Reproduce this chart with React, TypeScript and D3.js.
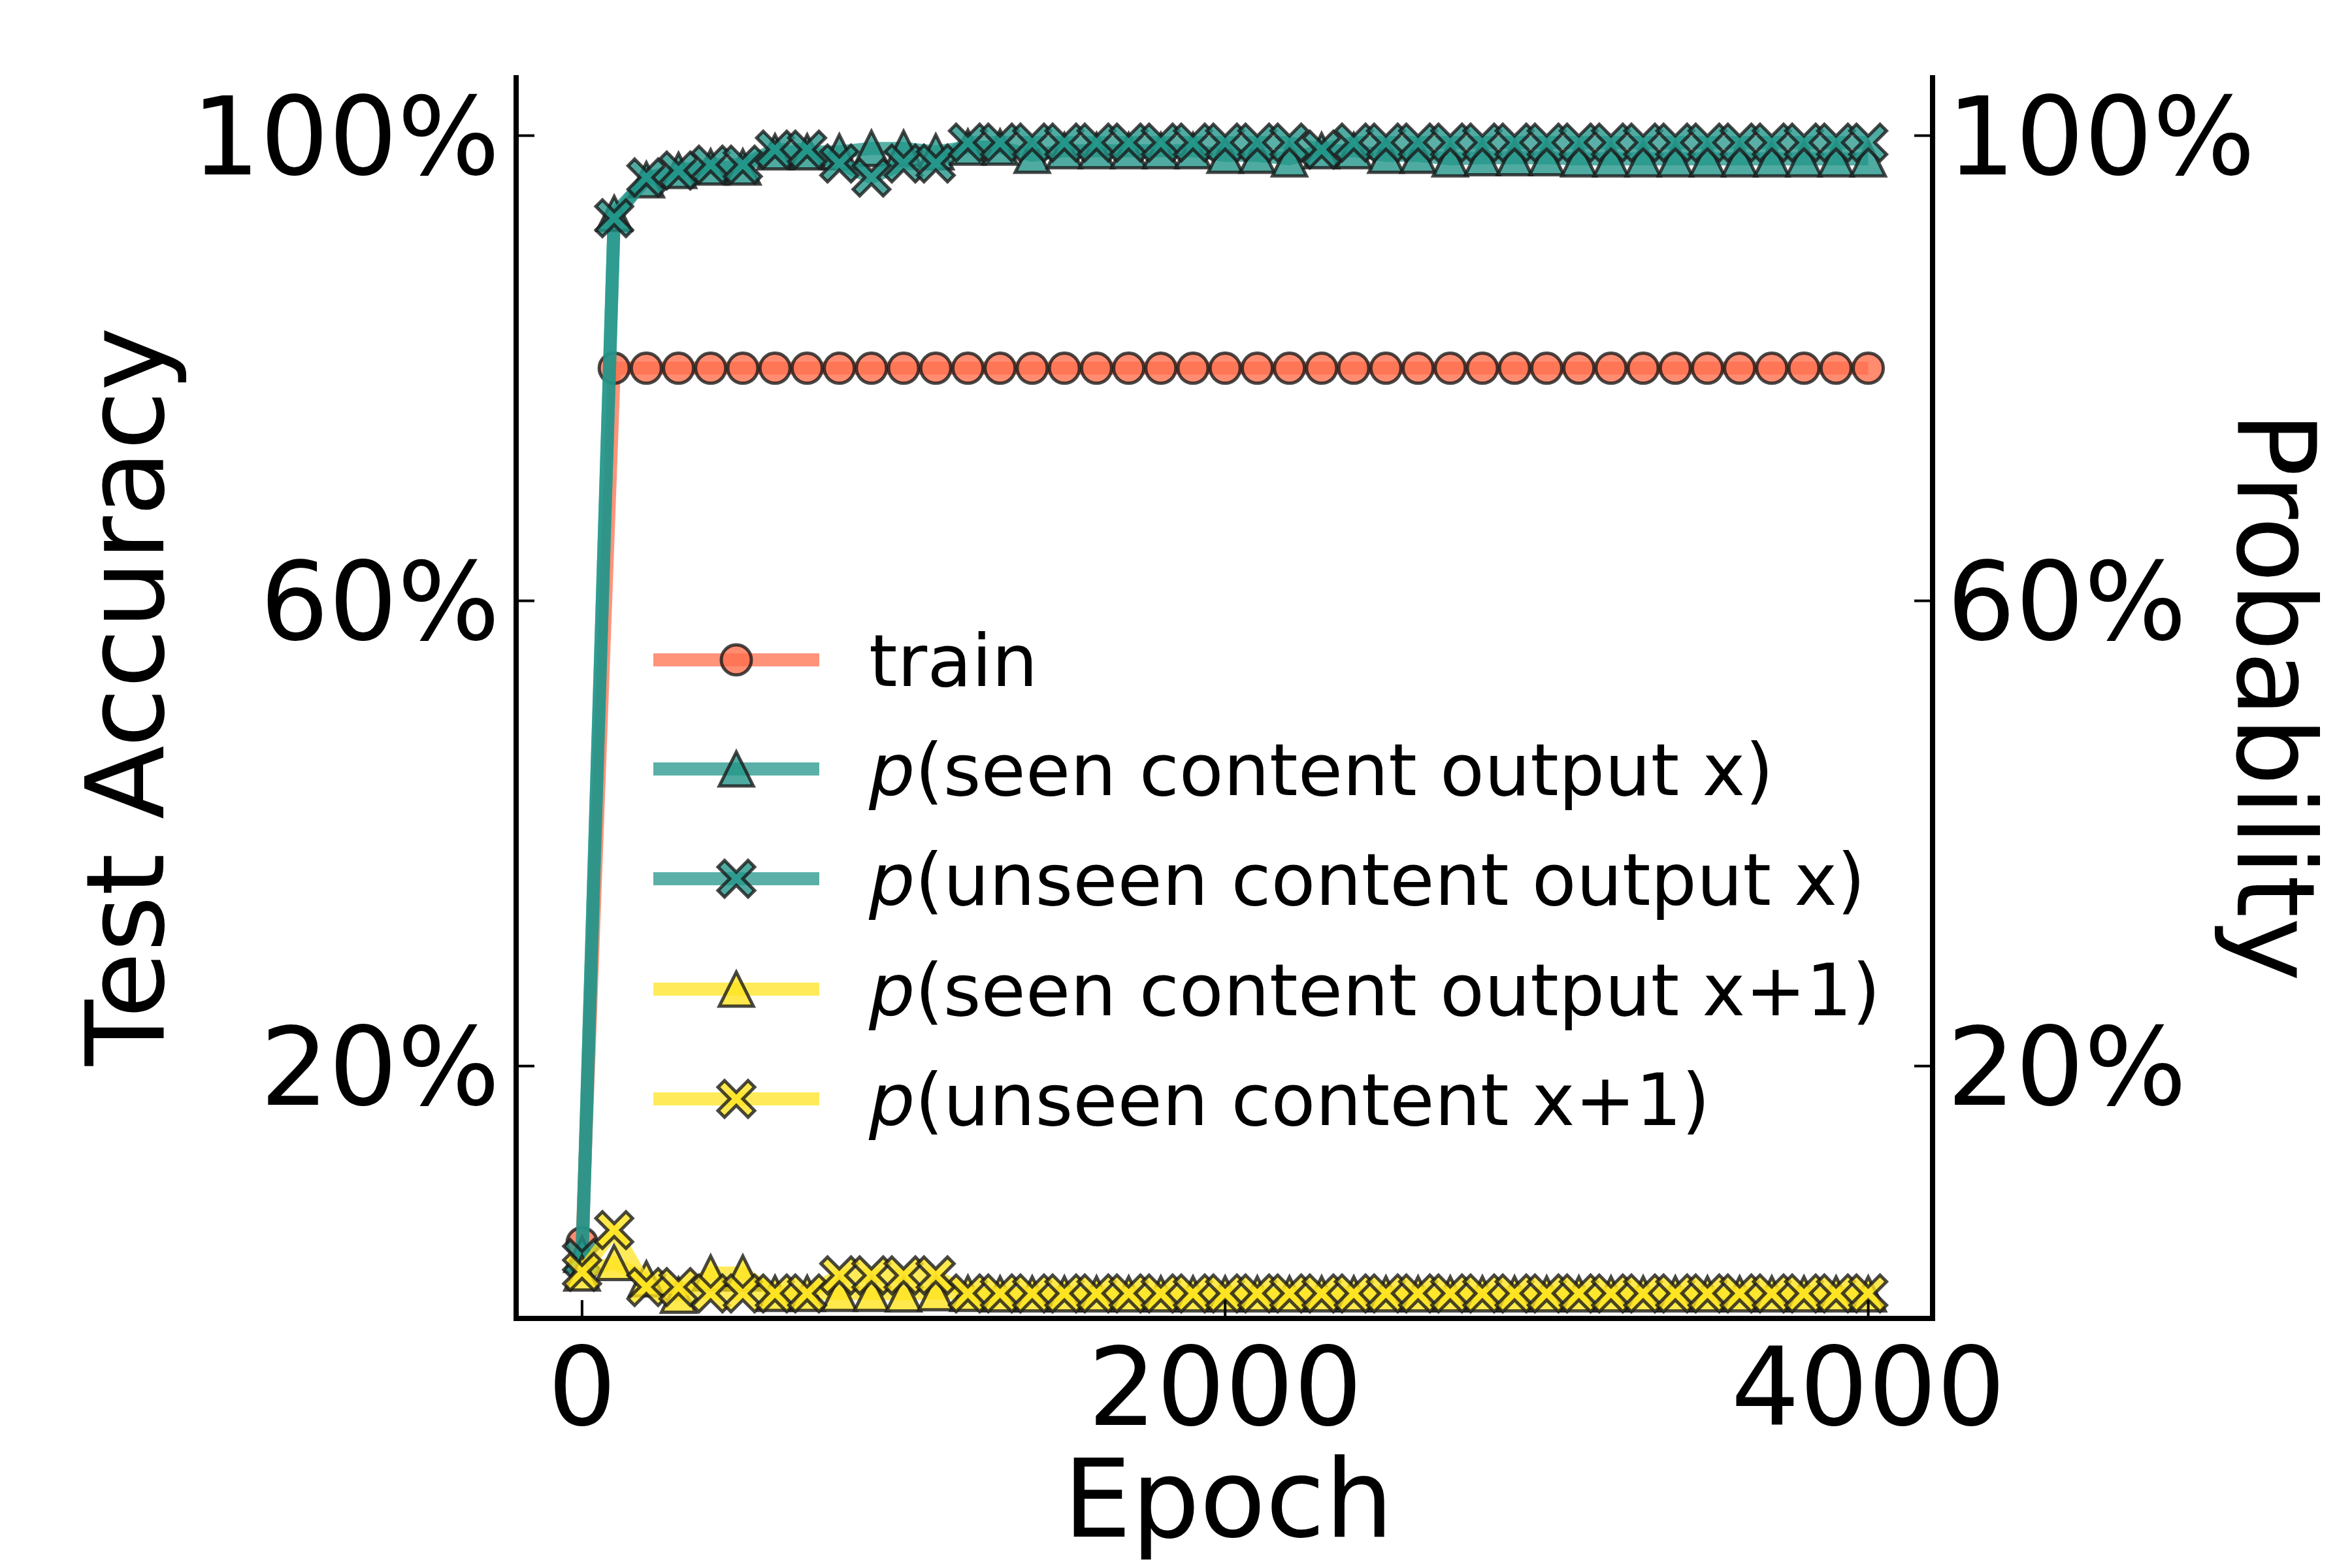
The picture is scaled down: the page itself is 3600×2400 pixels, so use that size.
import React from 'react';
import * as d3 from 'd3';

// epochs logged every 100 steps
const epochs = d3.range(0, 4001, 100);

const trainAcc = [4.8, ...Array(40).fill(80)];

const seenX = [3.8, 93.3, 96.2, 97.0, 97.3, 97.3, 98.6, 98.6, 98.6, 98.9, 98.9, 98.6, 99.0, 99.0,
  98.3, 98.7, 98.7, 98.7, 98.7, 98.7, 98.3, 98.3, 98.0, 98.7, 98.7, 98.3, 98.3, 98.0, 98.1, 98.1,
  98.1, 98.0, 98.0, 98.0, 98.0, 98.0, 98.0, 98.0, 98.0, 98.0, 98.0];
const unseenX = [3.5, 92.9, 96.4, 97.0, 97.5, 97.5, 98.8, 98.8, 97.6, 96.4, 97.6, 97.6, 99.4, 99.4,
  99.4, 99.4, 99.4, 99.4, 99.4, 99.4, 99.4, 99.4, 99.4, 98.8, 99.4, 99.4, 99.4, 99.4, 99.4, 99.4,
  99.4, 99.4, 99.4, 99.4, 99.4, 99.4, 99.4, 99.4, 99.4, 99.4, 99.4];
const seenX1 = [2.2, 3.1, 1.7, 0.3, 2.2, 2.2, 0.45, 0.45, 0.45, 0.45, 0.4, 0.5, 0.45,
  ...Array(28).fill(0.4)];
const unseenX1 = [2.3, 5.9, 1.0, 1.0, 0.45, 0.45, 0.45, 0.45, 2.0, 2.0, 2.0, 2.0, 0.45,
  ...Array(28).fill(0.45)];

const yTicks = [20, 60, 100];
const xTicks = [0, 2000, 4000];

type Marker = 'circle' | 'tri' | 'x';
const series: { label: string; values: number[]; color: string; marker: Marker }[] = [
  { label: 'train', values: trainAcc, color: '#ff6f4e', marker: 'circle' },
  { label: '(seen content output x)', values: seenX, color: '#23968a', marker: 'tri' },
  { label: '(unseen content output x)', values: unseenX, color: '#23968a', marker: 'x' },
  { label: '(seen content output x+1)', values: seenX1, color: '#ffe421', marker: 'tri' },
  { label: '(unseen content x+1)', values: unseenX1, color: '#ffe421', marker: 'x' },
];

const L = 790, R = 2958, T = 115, B = 2018;
const font = 'DejaVu Sans';

function markerPath(m: Marker): string {
  if (m === 'circle') {
    const r = 23;
    return `M${-r},0A${r},${r} 0 1,0 ${r},0A${r},${r} 0 1,0 ${-r},0Z`;
  }
  if (m === 'tri') {
    const h = 26;
    return `M0,${-h}L${h},${h}L${-h},${h}Z`;
  }
  // filled X
  const a = 28, w = 10;
  const pts: [number, number][] = [
    [-a, -a + w], [-a + w, -a], [0, -w], [a - w, -a], [a, -a + w], [w, 0],
    [a, a - w], [a - w, a], [0, w], [-a + w, a], [-a, a - w], [-w, 0],
  ];
  return 'M' + pts.map((p) => p.join(',')).join('L') + 'Z';
}

const App: React.FC = () => {
  const x = d3.scaleLinear().domain([-205, 4200]).range([L, R]);
  const y = d3.scaleLinear().domain([-1.7, 105.2]).range([B, T]);
  const line = d3.line<number>().x((_, i) => x(epochs[i])).y((v) => y(v));

  const legX = 1000, legW = 254, legText = 1330;
  const legRows = [1010, 1177, 1345, 1514, 1682];

  return (
    <svg width={3600} height={2400} style={{ position: 'absolute', left: 0, top: 0, background: '#fff' }}>
      {series.map((s) => (
        <g key={s.label}>
          <path d={line(s.values) ?? ''} fill="none" stroke={s.color} strokeWidth={20} strokeOpacity={0.75} strokeLinejoin="round" />
          {s.values.map((v, i) => (
            <path key={i} d={markerPath(s.marker)} transform={`translate(${x(epochs[i])},${y(v)})`}
              fill={s.color} fillOpacity={0.8} stroke="#1a1a1a" strokeOpacity={0.8} strokeWidth={5} />
          ))}
        </g>
      ))}

      {/* spines */}
      <line x1={L} x2={L} y1={T} y2={B} stroke="#000" strokeWidth={8} />
      <line x1={R} x2={R} y1={T} y2={B} stroke="#000" strokeWidth={8} />
      <line x1={L - 4} x2={R + 4} y1={B} y2={B} stroke="#000" strokeWidth={8} />

      {yTicks.map((t) => (
        <g key={t}>
          <line x1={L} x2={L + 28} y1={y(t)} y2={y(t)} stroke="#000" strokeWidth={4} />
          <line x1={R - 28} x2={R} y1={y(t)} y2={y(t)} stroke="#000" strokeWidth={4} />
          <text x={L - 25} y={y(t)} dy="0.36em" textAnchor="end" fontFamily={font} fontSize={165}>{t}%</text>
          <text x={R + 22} y={y(t)} dy="0.36em" textAnchor="start" fontFamily={font} fontSize={165}>{t}%</text>
        </g>
      ))}
      {xTicks.map((t) => (
        <g key={t}>
          <line x1={x(t)} x2={x(t)} y1={B} y2={B - 28} stroke="#000" strokeWidth={4} />
          <text x={x(t)} y={B + 38} dy="0.76em" textAnchor="middle" fontFamily={font} fontSize={165}>{t}</text>
        </g>
      ))}

      <text x={1880} y={2352} textAnchor="middle" fontFamily={font} fontSize={165}>Epoch</text>
      <text transform={`translate(250,1066) rotate(-90)`} textAnchor="middle" fontFamily={font} fontSize={165}>Test Accuracy</text>
      <text transform={`translate(3425,1066) rotate(90)`} textAnchor="middle" fontFamily={font} fontSize={165}>Probability</text>

      {series.map((s, i) => (
        <g key={'leg' + i}>
          <line x1={legX} x2={legX + legW} y1={legRows[i]} y2={legRows[i]} stroke={s.color} strokeWidth={20} strokeOpacity={0.75} />
          <path d={markerPath(s.marker)} transform={`translate(${legX + legW / 2},${legRows[i]})`}
            fill={s.color} fillOpacity={0.8} stroke="#1a1a1a" strokeOpacity={0.8} strokeWidth={5} />
          <text x={legText} y={legRows[i]} dy="0.36em" fontFamily={font} fontSize={111}>
            {i === 0 ? s.label : (<><tspan fontStyle="italic">p</tspan>{s.label}</>)}
          </text>
        </g>
      ))}
    </svg>
  );
};

export default App;
